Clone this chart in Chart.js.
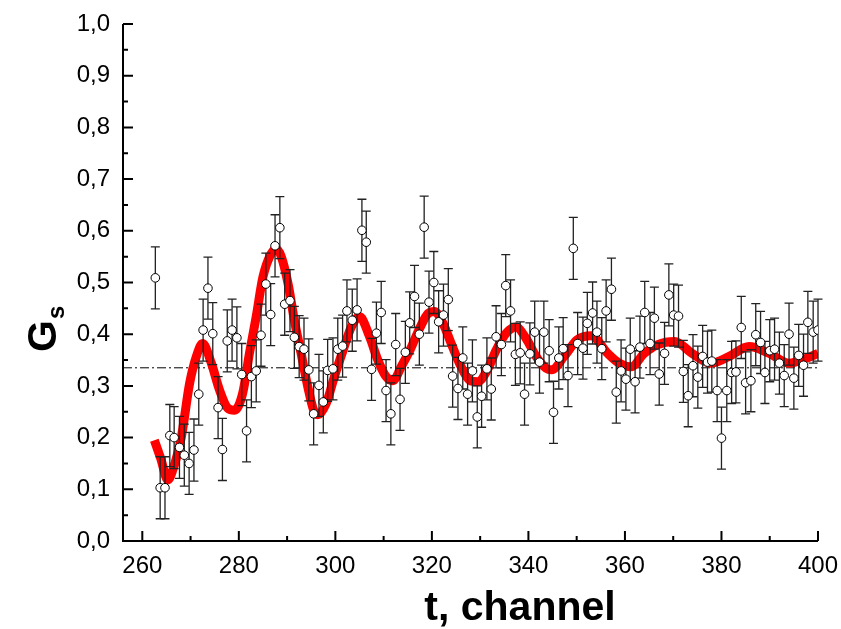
<!DOCTYPE html>
<html>
<head>
<meta charset="utf-8">
<script src="https://cdn.jsdelivr.net/npm/chart.js@4"></script>
<style>
  html, body { margin: 0; padding: 0; background: #fff; }
</style>
</head>
<body>
<canvas id="gsChart" width="841" height="629"></canvas>
<script>
// measured points: channel, G_s
const chanT = [262.7, 263.7, 264.7, 265.7, 266.6, 267.7, 268.7, 269.7, 270.7, 271.7,
  272.6, 273.6, 274.6, 275.7, 276.6, 277.6, 278.6, 279.6, 280.6, 281.6,
  282.6, 283.6, 284.6, 285.6, 286.6, 287.5, 288.5, 289.5, 290.6, 291.5,
  292.5, 293.5, 294.5, 295.5, 296.6, 297.5, 298.4, 299.5, 300.5, 301.5,
  302.4, 303.5, 304.5, 305.5, 306.4, 307.5, 308.5, 309.5, 310.5, 311.5,
  312.5, 313.4, 314.5, 315.4, 316.4, 317.4, 318.4, 319.4, 320.4, 321.4,
  322.4, 323.4, 324.3, 325.4, 326.4, 327.4, 328.4, 329.4, 330.3, 331.4,
  332.3, 333.3, 334.4, 335.3, 336.3, 337.3, 338.3, 339.2, 340.3, 341.3,
  342.3, 343.2, 344.3, 345.2, 346.3, 347.2, 348.2, 349.3, 350.2, 351.3,
  352.2, 353.3, 354.2, 355.2, 356.1, 357.2, 358.2, 359.2, 360.2, 361.1,
  362.1, 363.1, 364.1, 365.2, 366.1, 367.1, 368.2, 369.1, 370.1, 371.1,
  372.1, 373.1, 374.1, 375.1, 376.1, 377.1, 378.0, 379.1, 380.0, 381.1,
  382.1, 383.0, 384.1, 385.0, 386.1, 387.1, 388.1, 389.0, 390.0, 391.0,
  392.0, 393.0, 394.0, 395.0, 396.0, 397.0, 397.9, 399.0, 400.0];
const gVal = [0.509, 0.103, 0.103, 0.204, 0.200, 0.181, 0.166, 0.150, 0.176, 0.284,
  0.408, 0.489, 0.401, 0.258, 0.177, 0.387, 0.408, 0.393, 0.322, 0.213,
  0.318, 0.329, 0.398, 0.497, 0.438, 0.571, 0.606, 0.458, 0.465, 0.394,
  0.376, 0.371, 0.331, 0.246, 0.301, 0.269, 0.330, 0.333, 0.371, 0.377,
  0.445, 0.427, 0.447, 0.601, 0.578, 0.332, 0.402, 0.442, 0.291, 0.246,
  0.380, 0.274, 0.365, 0.422, 0.473, 0.400, 0.607, 0.462, 0.500, 0.424,
  0.437, 0.467, 0.319, 0.295, 0.354, 0.284, 0.329, 0.240, 0.280, 0.333,
  0.294, 0.395, 0.380, 0.494, 0.445, 0.361, 0.364, 0.284, 0.362, 0.404,
  0.346, 0.404, 0.368, 0.249, 0.354, 0.372, 0.320, 0.566, 0.382, 0.373,
  0.421, 0.441, 0.404, 0.372, 0.445, 0.487, 0.288, 0.329, 0.313, 0.371,
  0.308, 0.375, 0.442, 0.382, 0.431, 0.323, 0.363, 0.476, 0.437, 0.435,
  0.328, 0.281, 0.339, 0.317, 0.357, 0.346, 0.348, 0.291, 0.199, 0.291,
  0.326, 0.327, 0.413, 0.306, 0.310, 0.399, 0.384, 0.326, 0.368, 0.371,
  0.344, 0.320, 0.400, 0.315, 0.359, 0.340, 0.423, 0.404, 0.408];
const gErr = 0.06;

// fitted curve, read at its turning points and flanks
const fitT = [262.5, 263.8, 265.3, 266.3, 268.1, 269.8, 271.2, 272.5, 274.3, 276.0,
  277.7, 279.1, 280.8, 282.2, 283.6, 285.0, 286.7, 287.8, 288.8, 290.2,
  291.5, 292.9, 294.3, 295.5, 296.4, 298.1, 299.8, 301.6, 303.3, 305.0,
  307.1, 308.8, 310.5, 311.9, 313.8, 315.5, 317.4, 319.2, 320.5, 322.3,
  324.0, 325.7, 327.8, 329.5, 331.5, 333.3, 335.4, 337.4, 339.5, 341.6,
  343.7, 344.8, 347.4, 350.1, 353.0, 356.4, 358.8, 361.3, 364.0, 366.8,
  370.3, 373.9, 377.8, 381.6, 385.7, 389.9, 394.0, 397.5, 400.0];
const fitG = [0.195, 0.160, 0.118, 0.137, 0.202, 0.305, 0.357, 0.382, 0.344, 0.292,
  0.257, 0.253, 0.286, 0.363, 0.434, 0.511, 0.556, 0.565, 0.550, 0.498,
  0.427, 0.363, 0.298, 0.253, 0.244, 0.266, 0.318, 0.369, 0.414, 0.434,
  0.395, 0.350, 0.318, 0.310, 0.340, 0.370, 0.410, 0.440, 0.444, 0.421,
  0.382, 0.344, 0.311, 0.308, 0.331, 0.369, 0.402, 0.414, 0.392, 0.357,
  0.334, 0.331, 0.357, 0.389, 0.397, 0.363, 0.344, 0.337, 0.363, 0.380,
  0.386, 0.363, 0.344, 0.357, 0.376, 0.363, 0.344, 0.353, 0.363];

const baseLevel = 0.335;
const xTicks = [260, 280, 300, 320, 340, 360, 380, 400];
const yTicks = [0, 0.1, 0.2, 0.3, 0.4, 0.5, 0.6, 0.7, 0.8, 0.9, 1.0];

const FONT = "'Liberation Sans', Arial, sans-serif";

// error bars (between the red curve and the circles), axes with inward ticks, axis titles
const decor = {
  id: "decor",
  afterDatasetDraw(chart, args) {
    if (args.index !== 1) return;
    const { ctx, scales: { x, y } } = chart;
    ctx.save();
    ctx.strokeStyle = "#222";
    ctx.lineWidth = 1.3;
    chanT.forEach((t, i) => {
      const px = x.getPixelForValue(t);
      const top = y.getPixelForValue(gVal[i] + gErr);
      const bot = y.getPixelForValue(gVal[i] - gErr);
      ctx.beginPath();
      ctx.moveTo(px, top); ctx.lineTo(px, bot);
      ctx.moveTo(px - 4.5, top); ctx.lineTo(px + 4.5, top);
      ctx.moveTo(px - 4.5, bot); ctx.lineTo(px + 4.5, bot);
      ctx.stroke();
    });
    ctx.restore();
  },
  afterDraw(chart) {
    const { ctx, chartArea: a, scales: { x, y } } = chart;
    ctx.save();
    ctx.strokeStyle = "#000";
    ctx.lineWidth = 2;
    ctx.beginPath();
    ctx.moveTo(a.left, a.top); ctx.lineTo(a.left, a.bottom); ctx.lineTo(a.right, a.bottom);
    xTicks.forEach((v, i) => {
      const px = x.getPixelForValue(v);
      ctx.moveTo(px, a.bottom); ctx.lineTo(px, a.bottom - 10);
      if (i < xTicks.length - 1) {
        const mx = x.getPixelForValue((v + xTicks[i + 1]) / 2);
        ctx.moveTo(mx, a.bottom); ctx.lineTo(mx, a.bottom - 5);
      }
    });
    yTicks.forEach((v, i) => {
      const py = y.getPixelForValue(v);
      ctx.moveTo(a.left, py); ctx.lineTo(a.left + 10, py);
      if (i < yTicks.length - 1) {
        const my = y.getPixelForValue((v + yTicks[i + 1]) / 2);
        ctx.moveTo(a.left, my); ctx.lineTo(a.left + 5, my);
      }
    });
    ctx.stroke();

    ctx.fillStyle = "#000";
    ctx.font = "bold 41px " + FONT;
    ctx.textAlign = "center";
    ctx.textBaseline = "alphabetic";
    ctx.fillText("t, channel", 520, 620);

    ctx.translate(56, 352);
    ctx.rotate(-Math.PI / 2);
    ctx.textAlign = "left";
    ctx.font = "bold 41px " + FONT;
    ctx.fillText("G", 0, 0);
    const w = ctx.measureText("G").width;
    ctx.font = "bold 24px " + FONT;
    ctx.fillText("s", w + 1, 8);
    ctx.restore();
  }
};

const ctx = document.getElementById("gsChart").getContext("2d");

new Chart(ctx, {
  type: "scatter",
  data: {
    datasets: [
      {
        label: "G_s",
        data: chanT.map((t, i) => ({ x: t, y: gVal[i] })),
        pointRadius: 4.3,
        pointBackgroundColor: "#fff",
        pointBorderColor: "#000",
        pointBorderWidth: 1,
        order: 0
      },
      {
        type: "line",
        label: "fit",
        data: fitT.map((t, i) => ({ x: t, y: fitG[i] })),
        borderColor: "#ff0000",
        borderWidth: 9,
        pointRadius: 0,
        cubicInterpolationMode: "monotone",
        fill: false,
        order: 1
      },
      {
        type: "line",
        label: "level",
        data: [{ x: 256, y: baseLevel }, { x: 400, y: baseLevel }],
        borderColor: "#000",
        borderWidth: 1,
        borderDash: [9, 3, 2, 3],
        pointRadius: 0,
        fill: false,
        order: 2
      }
    ]
  },
  options: {
    responsive: false,
    animation: false,
    layout: { padding: { left: 0, top: 24, right: 23, bottom: 0 } },
    plugins: { legend: { display: false }, tooltip: { enabled: false } },
    scales: {
      x: {
        type: "linear",
        min: 256,
        max: 400,
        grid: { display: false, drawTicks: false },
        border: { display: false },
        afterBuildTicks: (s) => { s.ticks = xTicks.map(v => ({ value: v })); },
        afterFit: (s) => { s.height = 88; s.paddingLeft = 0; s.paddingRight = 0; },
        ticks: {
          padding: 11,
          color: "#000",
          maxRotation: 0,
          font: { family: FONT, size: 24 },
          callback: (v) => String(v)
        }
      },
      y: {
        min: 0,
        max: 1,
        grid: { display: false, drawTicks: false },
        border: { display: false },
        afterBuildTicks: (s) => { s.ticks = yTicks.map(v => ({ value: v })); },
        afterFit: (s) => { s.width = 123; s.paddingTop = 0; s.paddingBottom = 0; },
        ticks: {
          padding: 13,
          color: "#000",
          font: { family: FONT, size: 24 },
          callback: (v) => v.toFixed(1).replace(".", ",")
        }
      }
    }
  },
  plugins: [decor]
});
</script>
</body>
</html>
